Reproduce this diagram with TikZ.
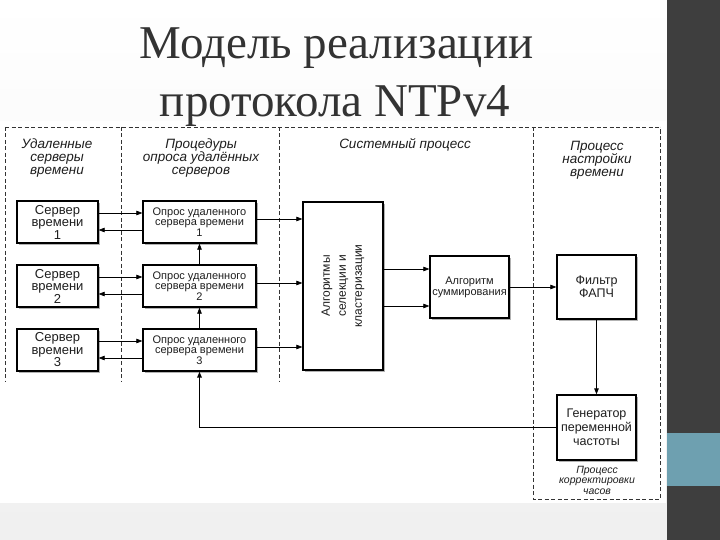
\documentclass[tikz,border=0pt]{standalone}
\usepackage{fontspec}
\setmainfont{Liberation Serif}
\setsansfont{Liberation Sans}
\usepackage{tikz}
\usetikzlibrary{positioning}
\usetikzlibrary{shadows}
\usetikzlibrary{arrows, arrows.meta}

\definecolor{slidedark}{RGB}{62,62,62}
\definecolor{slideteal}{RGB}{110,160,176}
\definecolor{inkgray}{RGB}{30,30,30}

\tikzset{
  blk/.style={draw=black, line width=1.3pt, fill=white, align=center, inner sep=1pt, text=inkgray,
    drop shadow={shadow xshift=2pt, shadow yshift=-2pt, fill=gray!60, opacity=1}},
  srvtxt/.style={font=\sffamily\fontsize{13}{12.5}\selectfont},
  polltxt/.style={font=\sffamily\fontsize{11}{10.5}\selectfont},
  zone/.style={dash pattern=on 4pt off 2.5pt, line width=0.6pt, black!80},
  hdr/.style={align=center, text=inkgray, font=\sffamily\itshape\fontsize{13.5}{12.8}\selectfont},
  link/.style={->, line width=0.7pt},
}

\begin{document}
\begin{tikzpicture}[x=1pt, y=-1pt, >={Triangle[length=6pt,width=4.5pt]}]
  \useasboundingbox (0,0) rectangle (720,540);
  % slide background
  \shade[top color=white, bottom color=gray!12] (0,0) rectangle (667,540);
  \fill[white] (0,121) rectangle (666,503);
  \fill[slidedark] (667,0) rectangle (720,540);
  \fill[slideteal] (667,433) rectangle (720,486);

  % title
  \node[anchor=base, text=black!80, font=\fontsize{47}{59}\selectfont] (title1) at (336.5,59) {Модель реализации};
  \node[anchor=base, text=black!80, font=\fontsize{47}{59}\selectfont] (title2) at (335,117) {протокола NTPv4};

  % zones
  \draw[zone] (5,127) -- (660,127);
  \draw[zone] (5,127) -- (5,382);
  \draw[zone] (121,127) -- (121,382);
  \draw[zone] (279,127) -- (279,382);
  \draw[zone] (533,127) -- (533,499) -- (660,499) -- (660,127);

  \node[hdr] (srvhdr) at (57,158) {Удаленные\\серверы\\времени};
  \node[hdr] (pollhdr) at (201,158) {Процедуры\\опроса удалённых\\серверов};
  \node[hdr] (syshdr) at (405,145) {Системный процесс};
  \node[hdr] (tunehdr) at (597,160) {Процесс\\настройки\\времени};
  \node[hdr, font=\sffamily\itshape\fontsize{10.5}{10.5}\selectfont] (corrhdr) at (597,480) {Процесс\\корректировки\\часов};

  % servers and polling
  \foreach \i/\y in {1/222, 2/286, 3/350} {
    \node[blk, srvtxt, minimum width=81pt, minimum height=42pt] (srv\i) at (57.5,\y) {Сервер\\времени\\\i};
    \node[blk, polltxt, minimum width=113pt, minimum height=42pt] (poll\i) at (199.5,\y) {Опрос удаленного\\сервера времени\\\i};
  }

  \node[blk, minimum width=80pt, minimum height=168pt,
    label={[rotate=90, align=center, text=inkgray, font=\sffamily\fontsize{12}{16}\selectfont]center:{Алгоритмы\\селекции и\\кластеризации}}] (algo) at (343,286) {};
  \node[blk, polltxt, minimum width=79pt, minimum height=62pt, font=\sffamily\fontsize{11}{11}\selectfont] (sum) at (469.5,287) {Алгоритм\\суммирования};
  \node[blk, minimum width=79pt, minimum height=64pt, font=\sffamily\fontsize{12.5}{13}\selectfont] (filt) at (596.5,287) {Фильтр\\ФАПЧ};
  \node[blk, minimum width=79pt, minimum height=65pt, font=\sffamily\fontsize{12.5}{14}\selectfont] (gen) at (596.5,427.5) {Генератор\\переменной\\частоты};

  % requests and replies
  \foreach \i in {1,2,3} {
    \draw[link] ([yshift=9pt]srv\i.east) -- ([yshift=9pt]srv\i.east -| poll\i.west);
    \draw[link] ([yshift=-8pt]poll\i.west) -- ([yshift=-8pt]poll\i.west -| srv\i.east);
    \draw[link] ([yshift=3pt]poll\i.east) -- ([yshift=3pt]poll\i.east -| algo.west);
  }
  \draw[link] (poll3.north) -- (poll2.south);
  \draw[link] (poll2.north) -- (poll1.south);

  \draw[link] ([yshift=18pt]sum.west -| algo.east) -- ([yshift=18pt]sum.west);
  \draw[link] ([yshift=-19pt]sum.west -| algo.east) -- ([yshift=-19pt]sum.west);
  \draw[link] (sum.east) -- (filt.west);
  \draw[link, line width=1pt] (filt.south) -- (gen.north);
  \draw[->, line width=1.6pt] (gen.west) -| (poll3.south);
\end{tikzpicture}
\end{document}
